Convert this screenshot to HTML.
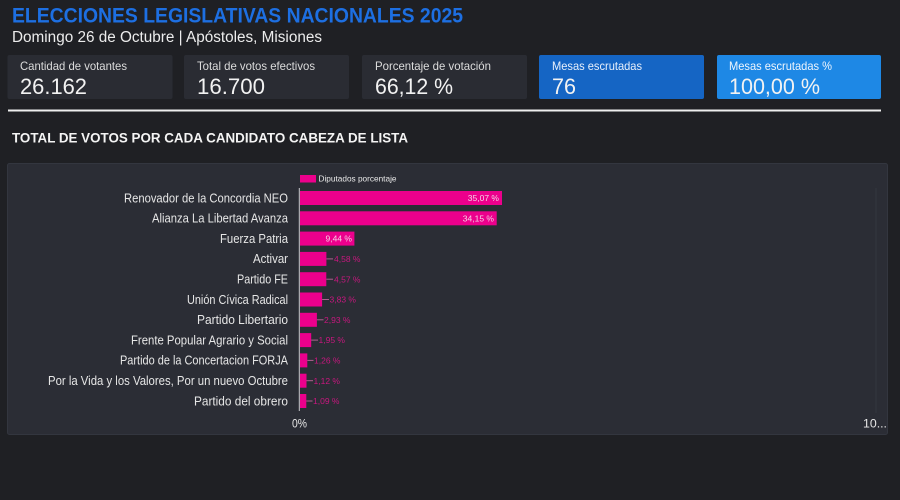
<!DOCTYPE html>
<html><head><meta charset="utf-8"><style>
html,body{margin:0;padding:0;background:#1f2024;width:900px;height:500px;overflow:hidden}
svg{display:block}
text{font-family:"Liberation Sans",sans-serif}
</style></head><body>
<svg width="900" height="500" viewBox="0 0 900 500" xmlns="http://www.w3.org/2000/svg">
<rect width="900" height="500" fill="#1f2024"/>
<text x="12" y="22.5" font-size="21" font-weight="bold" fill="#1d6fe2" textLength="451" lengthAdjust="spacingAndGlyphs">ELECCIONES LEGISLATIVAS NACIONALES 2025</text>
<text x="12" y="42" font-size="15.5" fill="#ececec" textLength="310" lengthAdjust="spacingAndGlyphs">Domingo 26 de Octubre | Apóstoles, Misiones</text>

<rect x="7.5" y="55" width="165" height="44" rx="2" fill="#2a2c33"/>
<rect x="184" y="55" width="165" height="44" rx="2" fill="#2a2c33"/>
<rect x="362" y="55" width="165" height="44" rx="2" fill="#2a2c33"/>
<rect x="539" y="55" width="165" height="44" rx="2" fill="#1565c4"/>
<rect x="717" y="55" width="164" height="44" rx="2" fill="#1e88e5"/>

<g font-size="12" fill="#dcdcdc">
<text x="20" y="70" textLength="107" lengthAdjust="spacingAndGlyphs">Cantidad de votantes</text>
<text x="197" y="70" textLength="118" lengthAdjust="spacingAndGlyphs">Total de votos efectivos</text>
<text x="375" y="70" textLength="116" lengthAdjust="spacingAndGlyphs">Porcentaje de votación</text>
<text x="552" y="70" fill="#e8f0fb" textLength="90" lengthAdjust="spacingAndGlyphs">Mesas escrutadas</text>
<text x="729" y="70" fill="#eef5fd" textLength="103" lengthAdjust="spacingAndGlyphs">Mesas escrutadas %</text>
</g>
<g font-size="22" fill="#f2f2f2">
<text x="20" y="94" textLength="67" lengthAdjust="spacingAndGlyphs">26.162</text>
<text x="197" y="94" textLength="68" lengthAdjust="spacingAndGlyphs">16.700</text>
<text x="375" y="94" textLength="78" lengthAdjust="spacingAndGlyphs">66,12 %</text>
<text x="552" y="94" textLength="24" lengthAdjust="spacingAndGlyphs">76</text>
<text x="729" y="94" textLength="91" lengthAdjust="spacingAndGlyphs">100,00 %</text>
</g>

<rect x="8" y="109.5" width="873" height="2" fill="#eeeeee"/>

<text x="12" y="142.5" font-size="13.5" font-weight="bold" fill="#f4f4f4" textLength="396" lengthAdjust="spacingAndGlyphs">TOTAL DE VOTOS POR CADA CANDIDATO CABEZA DE LISTA</text>

<rect x="7.5" y="163.5" width="880" height="271" rx="2" fill="#2b2d35" stroke="#33363f" stroke-width="1"/>
<line x1="876" y1="188" x2="876" y2="413" stroke="#31343c" stroke-width="1.5"/>

<rect x="300" y="175" width="16" height="7.5" fill="#ec008c"/>
<text x="318.5" y="181.5" font-size="8.5" fill="#e8e8e8" textLength="78" lengthAdjust="spacingAndGlyphs">Diputados porcentaje</text>

<line x1="299.3" y1="188" x2="299.3" y2="411" stroke="#c8c8cc" stroke-width="1"/>

<g font-size="12.5" fill="#e6e6e6" text-anchor="end">
<text x="288" y="202.3" textLength="164" lengthAdjust="spacingAndGlyphs">Renovador de la Concordia NEO</text>
<text x="288" y="222.6" textLength="136" lengthAdjust="spacingAndGlyphs">Alianza La Libertad Avanza</text>
<text x="288" y="242.9" textLength="68" lengthAdjust="spacingAndGlyphs">Fuerza Patria</text>
<text x="288" y="263.2" textLength="35" lengthAdjust="spacingAndGlyphs">Activar</text>
<text x="288" y="283.5" textLength="51" lengthAdjust="spacingAndGlyphs">Partido FE</text>
<text x="288" y="303.8" textLength="101" lengthAdjust="spacingAndGlyphs">Unión Cívica Radical</text>
<text x="288" y="324.1" textLength="91" lengthAdjust="spacingAndGlyphs">Partido Libertario</text>
<text x="288" y="344.4" textLength="157" lengthAdjust="spacingAndGlyphs">Frente Popular Agrario y Social</text>
<text x="288" y="364.7" textLength="168" lengthAdjust="spacingAndGlyphs">Partido de la Concertacion FORJA</text>
<text x="288" y="385.0" textLength="240" lengthAdjust="spacingAndGlyphs">Por la Vida y los Valores, Por un nuevo Octubre</text>
<text x="288" y="405.3" textLength="94" lengthAdjust="spacingAndGlyphs">Partido del obrero</text>
</g>

<g fill="#ec008c">
<rect x="300" y="191" width="202" height="14"/>
<rect x="300" y="211.3" width="196.7" height="14"/>
<rect x="300" y="231.6" width="54.4" height="14"/>
<rect x="300" y="251.9" width="26.4" height="14"/>
<rect x="300" y="272.2" width="26.3" height="14"/>
<rect x="300" y="292.5" width="22.1" height="14"/>
<rect x="300" y="312.8" width="16.9" height="14"/>
<rect x="300" y="333.1" width="11.2" height="14"/>
<rect x="300" y="353.4" width="7.3" height="14"/>
<rect x="300" y="373.7" width="6.5" height="14"/>
<rect x="300" y="394" width="6.3" height="14"/>
</g>

<g font-size="8.5" fill="#f4d0e6" text-anchor="end">
<text x="499" y="201">35,07 %</text>
<text x="494" y="221.3">34,15 %</text>
<text x="352" y="241.6">9,44 %</text>
</g>

<g stroke="#b06090" stroke-width="1">
<line x1="326.4" y1="258.9" x2="333" y2="258.9"/>
<line x1="326.3" y1="279.2" x2="333" y2="279.2"/>
<line x1="322.1" y1="299.5" x2="329" y2="299.5"/>
<line x1="316.9" y1="319.8" x2="323.5" y2="319.8"/>
<line x1="311.2" y1="340.1" x2="318" y2="340.1"/>
<line x1="307.3" y1="360.4" x2="313.5" y2="360.4"/>
<line x1="306.5" y1="380.7" x2="313" y2="380.7"/>
<line x1="306.3" y1="401" x2="312.5" y2="401"/>
</g>
<g font-size="8.5" fill="#c8177f">
<text x="334" y="262">4,58 %</text>
<text x="334" y="282.3">4,57 %</text>
<text x="329.5" y="302.6">3,83 %</text>
<text x="324" y="322.9">2,93 %</text>
<text x="318.5" y="343.2">1,95 %</text>
<text x="314" y="363.5">1,26 %</text>
<text x="313.5" y="383.8">1,12 %</text>
<text x="313" y="404.1">1,09 %</text>
</g>

<text x="292" y="427.5" font-size="11.5" fill="#e8e8e8" textLength="15" lengthAdjust="spacingAndGlyphs">0%</text>
<text x="863" y="427.5" font-size="11.5" fill="#e8e8e8" textLength="24" lengthAdjust="spacingAndGlyphs">10...</text>
</svg>
</body></html>
